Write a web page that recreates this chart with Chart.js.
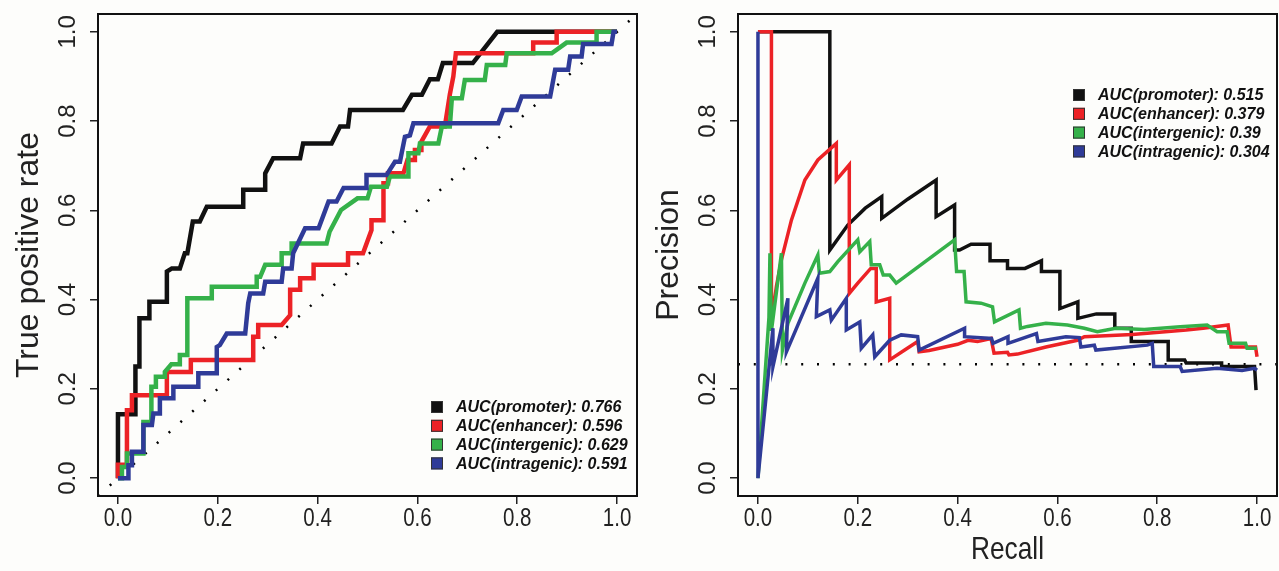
<!DOCTYPE html>
<html>
<head>
<meta charset="utf-8">
<title>ROC and precision-recall curves</title>
<script src="https://cdn.jsdelivr.net/npm/chart.js@4.4.1/dist/chart.umd.min.js"></script>
<style>
  html, body { margin: 0; padding: 0; background: #fdfdfb; }
  #wrap { position: relative; width: 1279px; height: 571px; overflow: hidden; }
  #roc { position: absolute; left: 0; top: 0; }
  #pr { position: absolute; left: 640px; top: 0; }
</style>
</head>
<body>
<div id="wrap">
  <canvas id="roc" width="640" height="571"></canvas>
  <canvas id="pr" width="639" height="571"></canvas>
</div>
<script>
// --- Data ---
const seriesNames = ['promoter', 'enhancer', 'intergenic', 'intragenic'];
const seriesColors = ['#111111', '#ec2226', '#35b14a', '#2f3b98'];
const rocAuc = ['0.766', '0.596', '0.629', '0.591'];
const prAuc = ['0.515', '0.379', '0.39', '0.304'];
const axisTicks = [0, 0.2, 0.4, 0.6, 0.8, 1.0];
const axisRange = [-0.04, 1.04];

// ROC curves: [false positive rate, true positive rate]
const rocPromoter = [[0,0],[0,0.143],[0.035,0.143],[0.035,0.25],[0.043,0.25],[0.043,0.358],[0.063,0.358],[0.063,0.395],[0.098,0.395],[0.098,0.463],[0.108,0.47],[0.124,0.47],[0.134,0.504],[0.139,0.504],[0.15,0.575],[0.164,0.575],[0.178,0.608],[0.251,0.608],[0.251,0.646],[0.295,0.646],[0.295,0.683],[0.311,0.717],[0.365,0.717],[0.371,0.75],[0.428,0.75],[0.445,0.788],[0.461,0.788],[0.465,0.825],[0.571,0.825],[0.589,0.859],[0.609,0.859],[0.625,0.894],[0.641,0.894],[0.651,0.93],[0.711,0.93],[0.76,1],[1,1]];
const rocEnhancer = [[0,0],[0,0.03],[0.018,0.03],[0.018,0.152],[0.028,0.152],[0.028,0.186],[0.098,0.186],[0.098,0.238],[0.146,0.238],[0.146,0.265],[0.271,0.265],[0.271,0.317],[0.281,0.317],[0.281,0.343],[0.328,0.343],[0.345,0.365],[0.345,0.422],[0.365,0.422],[0.365,0.448],[0.392,0.448],[0.392,0.478],[0.461,0.478],[0.461,0.504],[0.491,0.504],[0.508,0.556],[0.508,0.578],[0.532,0.578],[0.532,0.661],[0.541,0.661],[0.541,0.683],[0.572,0.683],[0.58,0.713],[0.595,0.713],[0.595,0.735],[0.608,0.735],[0.608,0.754],[0.625,0.788],[0.655,0.788],[0.665,0.86],[0.672,0.9],[0.677,0.952],[0.832,0.952],[0.832,0.976],[0.879,0.976],[0.879,1],[1,1]];
const rocIntergenic = [[0,0],[0.008,0],[0.008,0.025],[0.018,0.025],[0.018,0.055],[0.051,0.055],[0.051,0.126],[0.067,0.126],[0.067,0.205],[0.076,0.205],[0.076,0.227],[0.094,0.227],[0.094,0.238],[0.107,0.255],[0.124,0.255],[0.124,0.276],[0.139,0.276],[0.139,0.403],[0.188,0.403],[0.188,0.429],[0.278,0.429],[0.278,0.451],[0.285,0.451],[0.295,0.478],[0.328,0.478],[0.328,0.504],[0.348,0.504],[0.348,0.526],[0.418,0.526],[0.424,0.552],[0.447,0.601],[0.48,0.627],[0.5,0.627],[0.507,0.653],[0.539,0.653],[0.545,0.676],[0.582,0.676],[0.582,0.728],[0.602,0.728],[0.605,0.75],[0.642,0.75],[0.649,0.788],[0.665,0.788],[0.669,0.851],[0.689,0.851],[0.695,0.892],[0.735,0.892],[0.739,0.926],[0.776,0.926],[0.779,0.952],[0.869,0.952],[0.899,0.976],[0.959,0.976],[0.959,1],[1,1]];
const rocIntragenic = [[0,0],[0.021,0],[0.021,0.029],[0.028,0.029],[0.028,0.059],[0.051,0.059],[0.051,0.119],[0.068,0.119],[0.071,0.145],[0.084,0.145],[0.084,0.179],[0.111,0.179],[0.111,0.205],[0.161,0.205],[0.161,0.235],[0.198,0.235],[0.198,0.294],[0.204,0.298],[0.218,0.324],[0.255,0.324],[0.261,0.392],[0.265,0.414],[0.291,0.414],[0.295,0.44],[0.328,0.44],[0.331,0.47],[0.348,0.47],[0.351,0.504],[0.375,0.56],[0.402,0.56],[0.422,0.62],[0.438,0.62],[0.452,0.65],[0.498,0.65],[0.498,0.679],[0.538,0.679],[0.555,0.709],[0.565,0.709],[0.575,0.765],[0.585,0.768],[0.592,0.795],[0.762,0.795],[0.772,0.825],[0.799,0.825],[0.809,0.855],[0.866,0.855],[0.876,0.915],[0.902,0.915],[0.906,0.945],[0.929,0.945],[0.932,0.973],[0.989,0.973],[0.993,1],[1,1]];
const rocChance = [[-0.04,-0.04],[1.04,1.04]];

// Precision-recall curves: [recall, precision]
const prPromoter = [[0,1],[0.144,1],[0.144,0.511],[0.18,0.567],[0.215,0.605],[0.248,0.631],[0.248,0.582],[0.3,0.625],[0.357,0.668],[0.357,0.586],[0.394,0.612],[0.394,0.511],[0.404,0.511],[0.427,0.524],[0.465,0.524],[0.465,0.487],[0.5,0.487],[0.5,0.47],[0.535,0.47],[0.568,0.487],[0.568,0.463],[0.605,0.463],[0.605,0.38],[0.641,0.395],[0.641,0.358],[0.678,0.368],[0.715,0.368],[0.715,0.336],[0.748,0.336],[0.748,0.306],[0.822,0.306],[0.822,0.265],[0.855,0.265],[0.858,0.258],[0.929,0.258],[0.929,0.25],[0.995,0.25],[0.998,0.197]];
const prEnhancer = [[0,1],[0.027,1],[0.027,0.35],[0.037,0.43],[0.047,0.489],[0.067,0.578],[0.094,0.668],[0.12,0.713],[0.157,0.75],[0.157,0.668],[0.183,0.702],[0.183,0.414],[0.2,0.437],[0.226,0.47],[0.237,0.47],[0.237,0.395],[0.264,0.403],[0.264,0.265],[0.294,0.287],[0.32,0.306],[0.323,0.283],[0.343,0.286],[0.4,0.3],[0.421,0.309],[0.44,0.306],[0.467,0.313],[0.473,0.28],[0.5,0.282],[0.503,0.276],[0.52,0.278],[0.577,0.294],[0.64,0.309],[0.654,0.317],[0.75,0.322],[0.858,0.332],[0.892,0.336],[0.942,0.343],[0.948,0.294],[0.997,0.294],[1,0.272]];
const prIntergenic = [[0,0],[0.022,0.36],[0.024,0.504],[0.027,0.33],[0.047,0.504],[0.049,0.287],[0.06,0.347],[0.094,0.437],[0.12,0.5],[0.123,0.459],[0.144,0.463],[0.16,0.485],[0.2,0.534],[0.204,0.507],[0.224,0.53],[0.227,0.478],[0.244,0.478],[0.251,0.455],[0.264,0.455],[0.277,0.437],[0.394,0.534],[0.398,0.463],[0.413,0.463],[0.417,0.395],[0.447,0.392],[0.47,0.384],[0.474,0.35],[0.523,0.377],[0.526,0.336],[0.54,0.34],[0.577,0.347],[0.62,0.343],[0.654,0.336],[0.68,0.328],[0.717,0.336],[0.774,0.333],[0.846,0.339],[0.9,0.343],[0.92,0.328],[0.94,0.328],[0.944,0.302],[0.977,0.302],[0.98,0.291],[1,0.291]];
const prIntragenic = [[0,1],[0,0],[0.03,0.336],[0.03,0.25],[0.06,0.403],[0.057,0.283],[0.12,0.448],[0.117,0.362],[0.144,0.377],[0.147,0.354],[0.177,0.403],[0.177,0.332],[0.204,0.35],[0.207,0.291],[0.23,0.321],[0.234,0.272],[0.264,0.309],[0.287,0.321],[0.32,0.317],[0.323,0.287],[0.414,0.336],[0.414,0.317],[0.468,0.313],[0.471,0.302],[0.501,0.317],[0.501,0.302],[0.558,0.324],[0.561,0.306],[0.617,0.317],[0.644,0.315],[0.647,0.294],[0.674,0.298],[0.677,0.287],[0.78,0.298],[0.79,0.302],[0.793,0.25],[0.846,0.25],[0.85,0.239],[0.92,0.246],[0.97,0.241],[0.995,0.246],[1,0.242]];
const prBaseline = [[-0.04,0.255],[1.04,0.255]];

// --- Helpers ---
const REGULAR = "'Liberation Sans', Arial, sans-serif";
const SQUEEZE = 0.82; // the figure's horizontal text is condensed

const toXY = arr => arr.map(p => ({ x: p[0], y: p[1] }));

function curve(points, i, width) {
  return {
    data: toXY(points),
    borderColor: seriesColors[i],
    borderWidth: width,
    pointRadius: 0,
    showLine: true,
    tension: 0,
    fill: false,
    borderJoinStyle: 'miter',
    order: 4 - i
  };
}

function dotted(points) {
  return {
    data: toXY(points),
    borderColor: '#000',
    borderWidth: 2.5,
    borderDash: [2, 13.8],
    pointRadius: 0,
    showLine: true,
    fill: false,
    order: 10
  };
}

// box around the plotting region, like R's box()
const boxPlugin = {
  id: 'plotBox',
  afterDraw(chart) {
    const a = chart.chartArea, ctx = chart.ctx;
    ctx.save();
    ctx.strokeStyle = '#111';
    ctx.lineWidth = 2;
    ctx.strokeRect(a.left, a.top, a.right - a.left, a.bottom - a.top);
    ctx.restore();
  }
};

// x tick labels and x title in a condensed face, placed from the x scale
const narrowXPlugin = {
  id: 'narrowX',
  afterDraw(chart, args, opts) {
    const s = chart.scales.x, ctx = chart.ctx;
    ctx.save();
    ctx.fillStyle = '#222';
    ctx.textAlign = 'center';
    ctx.textBaseline = 'top';
    ctx.font = '25px ' + REGULAR;
    s.ticks.forEach(t => {
      const px = s.getPixelForValue(t.value);
      ctx.save();
      ctx.translate(px, s.top + 11);
      ctx.scale(SQUEEZE, 1);
      ctx.fillText(t.value.toFixed(1), 0, 0);
      ctx.restore();
    });
    if (opts && opts.title) {
      const a = chart.chartArea;
      ctx.font = '32px ' + REGULAR;
      ctx.textBaseline = 'middle';
      ctx.translate((a.left + a.right) / 2, s.bottom - 21);
      ctx.scale(SQUEEZE, 1);
      ctx.fillText(opts.title, 0, 0);
    }
    ctx.restore();
  }
};

// filled-square legend inside the plot
const aucLegendPlugin = {
  id: 'aucLegend',
  afterDraw(chart, args, opts) {
    if (!opts || !opts.labels) return;
    const ctx = chart.ctx;
    ctx.save();
    ctx.font = 'italic bold 16px ' + REGULAR;
    ctx.textBaseline = 'middle';
    ctx.textAlign = 'left';
    opts.labels.forEach((txt, i) => {
      const y = opts.y + i * opts.step;
      ctx.fillStyle = seriesColors[i];
      ctx.fillRect(opts.x, y - 6, 12, 12);
      ctx.strokeStyle = '#333';
      ctx.lineWidth = 1;
      ctx.strokeRect(opts.x + 0.5, y - 5.5, 11, 11);
      ctx.fillStyle = '#111';
      ctx.fillText(txt, opts.x + 25, y + 1);
    });
    ctx.restore();
  }
};

function axes(yTitle) {
  const setTicks = scale => { scale.ticks = axisTicks.map(v => ({ value: v })); };
  return {
    x: {
      type: 'linear',
      min: axisRange[0], max: axisRange[1],
      afterBuildTicks: setTicks,
      afterFit: s => { s.height = 75; s.paddingLeft = 0; s.paddingRight = 0; },
      grid: { drawOnChartArea: false, drawTicks: true, tickLength: 8, color: '#222', lineWidth: 1.5 },
      border: { display: false },
      ticks: { display: false }
    },
    y: {
      type: 'linear',
      min: axisRange[0], max: axisRange[1],
      afterBuildTicks: setTicks,
      afterFit: s => { s.width = 98; s.paddingTop = 0; s.paddingBottom = 0; },
      grid: { drawOnChartArea: false, drawTicks: true, tickLength: 8, color: '#222', lineWidth: 1.5 },
      border: { display: false },
      ticks: {
        padding: 5,
        minRotation: 90,
        maxRotation: 90,
        crossAlign: 'center',
        color: '#222',
        font: { family: REGULAR, size: 24 },
        callback: v => v.toFixed(1)
      },
      title: {
        display: true,
        text: yTitle,
        color: '#222',
        font: { family: REGULAR, size: 32 },
        padding: { top: 10, bottom: 0 }
      }
    }
  };
}

function makeChart(id, datasets, xTitle, yTitle, legend, rightPad) {
  return new Chart(document.getElementById(id), {
    type: 'scatter',
    data: { datasets },
    options: {
      responsive: false,
      animation: false,
      events: [],
      layout: { padding: { left: 0, right: rightPad, top: 14, bottom: 0 } },
      scales: axes(yTitle),
      plugins: {
        legend: { display: false },
        tooltip: { enabled: false },
        aucLegend: legend,
        narrowX: { title: xTitle }
      }
    },
    plugins: [boxPlugin, narrowXPlugin, aucLegendPlugin]
  });
}

// --- ROC panel ---
makeChart('roc', [
  dotted(rocChance),
  curve(rocPromoter, 0, 4.5),
  curve(rocEnhancer, 1, 4.5),
  curve(rocIntergenic, 2, 4.5),
  curve(rocIntragenic, 3, 4.5)
], '', 'True positive rate', {
  x: 431, y: 407, step: 18.8,
  labels: seriesNames.map((n, i) => 'AUC(' + n + '): ' + rocAuc[i])
}, 3);

// --- Precision-recall panel ---
makeChart('pr', [
  dotted(prBaseline),
  curve(prPromoter, 0, 3.5),
  curve(prEnhancer, 1, 3.5),
  curve(prIntergenic, 2, 3.5),
  curve(prIntragenic, 3, 3.5)
], 'Recall', 'Precision', {
  x: 433, y: 95, step: 18.8,
  labels: seriesNames.map((n, i) => 'AUC(' + n + '): ' + prAuc[i])
}, 2);
</script>
</body>
</html>
